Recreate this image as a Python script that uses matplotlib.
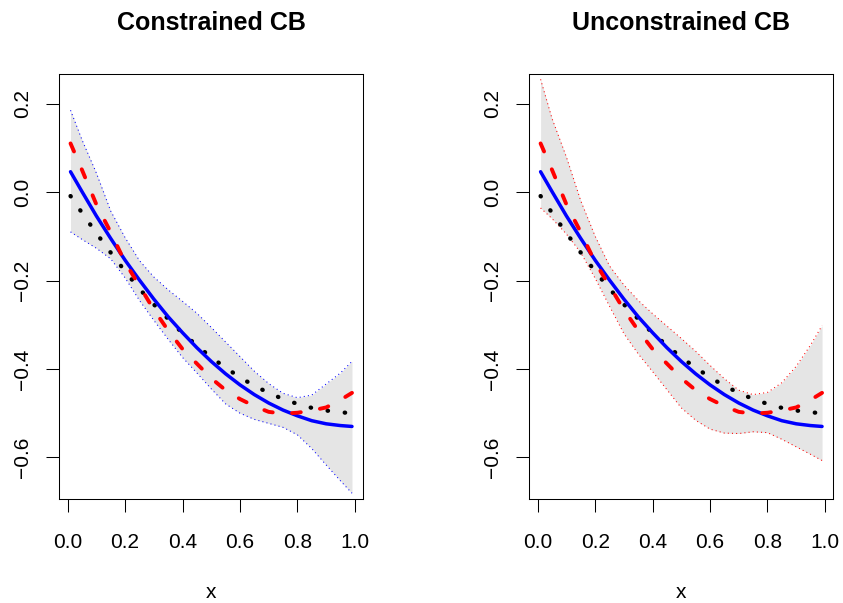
import matplotlib
matplotlib.use("Agg")
import matplotlib.pyplot as plt

plt.rcParams['font.family'] = ['Liberation Sans', 'DejaVu Sans']

# grid of x values the curves were read at
x = [0.01, 0.05, 0.10, 0.15, 0.20, 0.25, 0.30, 0.35, 0.40, 0.45, 0.50,
     0.55, 0.60, 0.65, 0.70, 0.75, 0.80, 0.85, 0.90, 0.95, 0.99]

# true function (black dotted)
truth = [-0.009, -0.047, -0.093, -0.137, -0.179, -0.219, -0.254, -0.287, -0.319, -0.347, -0.374,
         -0.397, -0.419, -0.438, -0.454, -0.468, -0.479, -0.488, -0.494, -0.498, -0.500]
# constrained estimate (blue solid)
fit_blue = [0.046, 0.001, -0.054, -0.105, -0.154, -0.199, -0.242, -0.282, -0.318, -0.352, -0.383,
            -0.411, -0.436, -0.458, -0.477, -0.493, -0.506, -0.517, -0.524, -0.528, -0.530]
# unconstrained estimate (red dashed)
fit_red = [0.110, 0.050, -0.028, -0.091, -0.159, -0.212, -0.266, -0.313, -0.355, -0.388, -0.421,
           -0.448, -0.468, -0.484, -0.497, -0.501, -0.499, -0.494, -0.487, -0.470, -0.454]

# confidence bands
cons_upper = [0.185, 0.118, 0.043, -0.043, -0.103, -0.155, -0.192, -0.221, -0.247, -0.274, -0.306,
              -0.339, -0.372, -0.405, -0.433, -0.455, -0.465, -0.459, -0.434, -0.409, -0.383]
cons_lower = [-0.090, -0.107, -0.127, -0.151, -0.194, -0.245, -0.290, -0.333, -0.374, -0.409, -0.445,
              -0.479, -0.500, -0.514, -0.523, -0.532, -0.549, -0.580, -0.617, -0.653, -0.681]
uncons_upper = [0.255, 0.166, 0.079, -0.020, -0.100, -0.167, -0.210, -0.245, -0.275, -0.303, -0.331,
                -0.360, -0.392, -0.422, -0.448, -0.458, -0.453, -0.431, -0.394, -0.346, -0.302]
uncons_lower = [-0.036, -0.060, -0.095, -0.137, -0.195, -0.258, -0.320, -0.366, -0.406, -0.447, -0.488,
                -0.516, -0.536, -0.545, -0.546, -0.542, -0.544, -0.559, -0.576, -0.593, -0.607]

titles = ["Constrained CB", "Unconstrained CB"]
xticks = [0.0, 0.2, 0.4, 0.6, 0.8, 1.0]
xtick_labels = ["0.0", "0.2", "0.4", "0.6", "0.8", "1.0"]
yticks = [-0.6, -0.4, -0.2, 0.0, 0.2]
ytick_labels = ["\u22120.6", "\u22120.4", "\u22120.2", "0.0", "0.2"]

fig = plt.figure(figsize=(8.43, 6.03), dpi=100)

panels = [
    (0.0703, cons_lower, cons_upper, "#0000FF", titles[0]),
    (0.6279, uncons_lower, uncons_upper, "#FF0000", titles[1]),
]

for left, lower, upper, band_col, title in panels:
    ax = fig.add_axes([left, 0.1725, 0.3606, 0.7048])
    ax.fill_between(x, lower, upper, color="#E5E5E5", lw=0)
    ax.plot(x, upper, color=band_col, lw=0.75, linestyle=(0, (1, 3)))
    ax.plot(x, lower, color=band_col, lw=0.75, linestyle=(0, (1, 3)))
    ax.plot(x, truth, color="black", lw=3.1, linestyle=(0, (0.1, 3.9)),
            dash_capstyle="round")
    ax.plot(x, fit_blue, color="#0000FF", lw=2.5, solid_capstyle="round")
    ax.plot(x, fit_red, color="#FF0000", lw=2.8, linestyle=(0, (2.25, 5.0)),
            dash_capstyle="round")

    ax.set_xlim(-0.0292, 1.0292)
    ax.set_ylim(-0.694, 0.267)
    ax.set_xticks(xticks, labels=xtick_labels)
    ax.set_yticks(yticks, labels=ytick_labels)
    ax.tick_params(axis="both", direction="out", length=9.5, width=0.75,
                   labelsize=15)
    ax.tick_params(axis="x", pad=15)
    ax.tick_params(axis="y", pad=10)
    for lab in ax.get_yticklabels():
        lab.set_rotation(90)
        lab.set_va("center")
    for sp in ax.spines.values():
        sp.set_linewidth(0.75)
    ax.set_xlabel("x", fontsize=15, labelpad=22)
    ax.set_title(title, fontsize=18, fontweight="bold", pad=32)

fig.savefig("out.png", dpi=100)
